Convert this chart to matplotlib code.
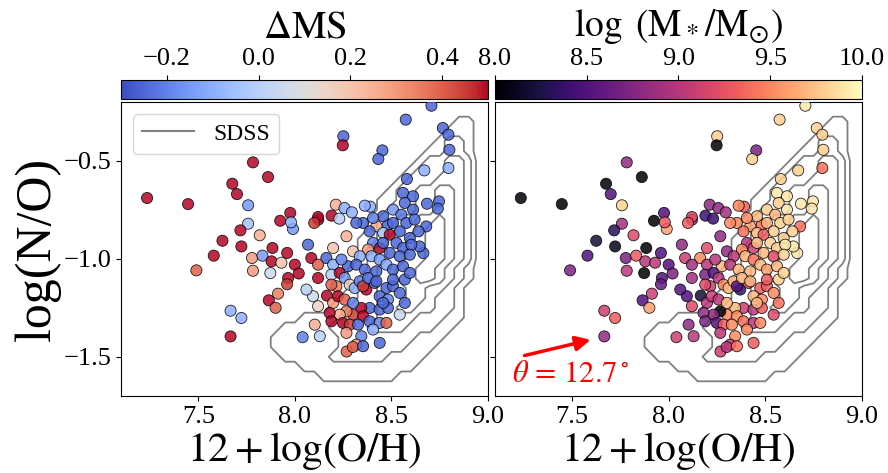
"""
N/O vs O/H for the sample, coloured by offset from the main sequence (left)
and by stellar mass (right), with SDSS density contours underneath.
"""
import numpy as np
import matplotlib
matplotlib.use("Agg")
import matplotlib.pyplot as plt
from matplotlib.lines import Line2D

plt.rcParams["font.family"] = ["Liberation Serif", "DejaVu Serif"]
plt.rcParams["mathtext.fontset"] = "stix"

OUTPUT = "out.png"

# galaxy sample: 12+log(O/H), log(N/O), log M*, Delta MS
OH = [
    8.707, 8.574, 8.766, 8.795, 8.800, 8.251, 8.248, 8.453, 8.432, 8.795,
    8.670, 8.580, 7.783, 7.861, 7.676, 7.700, 7.235, 7.447, 7.758, 7.976,
    7.924, 7.758, 7.718, 7.818, 7.625, 7.723, 7.580, 7.490, 7.778, 7.783,
    7.884, 7.832, 7.879, 7.873, 7.930, 7.960, 8.000, 8.020, 7.965, 7.960,
    7.913, 7.865, 7.900, 7.667, 7.723, 7.667, 8.040, 8.121, 8.212, 8.257,
    8.295, 8.190, 8.230, 8.120, 8.100, 8.390, 7.990, 7.980, 8.684, 8.746,
    8.740, 8.680, 8.665, 8.645, 8.268,
    8.560, 8.612, 8.569, 8.508, 8.612, 8.551, 8.362, 8.353, 8.422, 8.482,
    8.508, 8.577, 8.543, 8.457, 8.387, 8.318, 8.595, 8.491, 8.405, 8.439,
    8.379, 8.457, 8.526, 8.560, 8.603, 8.301, 8.336, 8.396, 8.439, 8.491,
    8.543, 8.595, 8.275, 8.318, 8.362, 8.422, 8.474, 8.508, 8.560, 8.267,
    8.068, 8.198, 8.163, 8.085, 8.120, 8.198, 8.241, 8.120, 8.189, 8.232,
    8.258, 8.215, 8.189, 8.284, 8.310, 8.336, 8.370, 8.353, 8.413, 8.474,
    8.508, 8.543, 8.439, 8.482, 8.387, 8.439, 8.482, 8.543, 8.344, 8.301,
    8.353, 8.387, 8.439, 8.474, 8.405, 8.094, 8.120, 8.166, 8.198, 8.223,
    8.258, 8.267, 8.232, 8.180, 8.189, 8.249, 8.284, 8.327, 8.267, 8.344,
    8.318, 8.300, 8.353, 8.103, 8.129, 8.439, 8.060,
    8.379, 8.422, 8.301, 8.569, 8.595, 8.508, 8.457, 8.569, 8.457, 8.405,
    8.620, 8.640,
]
NO = [
    -0.219, -0.290, -0.333, -0.367, -0.444, -0.375, -0.421, -0.447, -0.491, -0.537,
    -0.549, -0.593, -0.508, -0.583, -0.617, -0.670, -0.690, -0.721, -0.727, -0.766,
    -0.806, -0.821, -0.855, -0.880, -0.908, -0.937, -0.984, -1.059, -0.996, -1.061,
    -0.945, -0.984, -1.013, -1.073, -1.020, -0.970, -1.030, -1.075, -1.098, -1.130,
    -1.178, -1.212, -1.250, -1.265, -1.302, -1.396, -1.400, -0.800, -0.724, -0.741,
    -0.763, -0.780, -0.795, -0.787, -0.817, -0.734, -0.848, -0.814, -0.719, -0.707,
    -0.744, -0.835, -0.971, -0.937, -1.473,
    -0.664, -0.681, -0.715, -0.749, -0.749, -0.775, -0.729, -0.817, -0.834, -0.826,
    -0.817, -0.817, -0.860, -0.868, -0.860, -0.817, -0.894, -0.877, -0.919, -0.945,
    -0.953, -0.919, -0.919, -0.945, -0.928, -0.962, -0.987, -0.987, -1.004, -0.970,
    -0.987, -0.979, -1.038, -1.030, -1.055, -1.064, -1.030, -1.055, -1.038, -0.885,
    -0.928, -0.945, -0.996, -0.996, -1.030, -1.030, -1.004, -1.098, -1.081, -1.072,
    -1.098, -1.140, -1.132, -1.132, -1.149, -1.115, -1.157, -1.140, -1.123, -1.149,
    -1.140, -1.174, -1.191, -1.208, -1.251, -1.259, -1.251, -1.285, -1.251, -1.285,
    -1.293, -1.319, -1.327, -1.327, -1.361, -1.191, -1.242, -1.188, -1.225, -1.191,
    -1.208, -1.268, -1.285, -1.276, -1.319, -1.327, -1.336, -1.336, -1.378, -1.395,
    -1.438, -1.450, -1.446, -1.336, -1.395, -1.429, -1.157,
    -1.098, -1.115, -1.225, -1.106, -1.072, -1.106, -1.225, -1.225, -0.783, -0.792,
    -0.800, -0.860,
]
MASS = [
    9.9, 9.8, 9.8, 9.8, 9.8, 9.8, 8.0, 8.7, 9.8, 9.4,
    9.8, 9.8, 8.8, 8.0, 8.0, 8.5, 8.0, 8.0, 9.8, 8.5,
    8.0, 8.9, 8.3, 9.2, 8.2, 8.1, 8.5, 8.7, 8.7, 9.0,
    8.0, 9.3, 9.0, 8.0, 9.0, 8.5, 8.5, 8.7, 8.5, 8.6,
    9.1, 8.5, 9.6, 9.1, 9.3, 8.8, 9.1, 9.0, 8.8, 8.8,
    8.9, 8.4, 8.4, 9.2, 9.3, 9.3, 9.6, 9.3, 9.9, 9.9,
    9.9, 9.4, 9.9, 9.9, 9.1,
    9.9, 9.9, 9.8, 9.8, 9.9, 9.7, 9.5, 9.5, 9.6, 9.4,
    9.7, 9.8, 9.8, 9.7, 9.4, 9.5, 9.8, 9.3, 9.0, 9.1,
    9.5, 9.7, 9.8, 9.8, 9.9, 8.8, 9.0, 9.7, 9.4, 9.7,
    9.2, 9.8, 9.7, 9.0, 9.7, 9.7, 9.7, 9.6, 9.7, 8.8,
    8.8, 9.2, 9.5, 9.1, 8.9, 9.0, 9.0, 8.9, 8.7, 8.5,
    9.0, 9.1, 9.2, 9.5, 9.7, 9.7, 8.4, 8.5, 9.2, 9.3,
    9.3, 9.5, 9.7, 9.5, 9.1, 9.0, 9.3, 9.2, 9.7, 9.5,
    9.5, 9.4, 9.0, 9.5, 9.5, 8.5, 9.2, 8.2, 9.0, 9.1,
    9.0, 8.0, 8.8, 8.8, 8.7, 8.5, 9.3, 9.5, 9.0, 9.5,
    9.1, 9.0, 9.4, 8.8, 9.0, 9.3, 8.5,
    9.7, 9.7, 9.7, 9.8, 9.8, 9.3, 9.7, 9.4, 9.7, 9.5,
    9.8, 9.8,
]
DMS = [
    -0.25, -0.25, -0.25, -0.25, -0.25, -0.25, 0.50, -0.25, -0.25, -0.10,
    -0.10, -0.25, 0.50, 0.50, 0.50, 0.50, 0.50, 0.50, -0.15, 0.50,
    0.50, -0.05, 0.50, 0.25, 0.50, 0.50, 0.50, 0.40, 0.30, 0.30,
    0.50, -0.15, 0.50, 0.05, 0.20, 0.50, 0.50, 0.50, 0.50, 0.45,
    0.35, 0.50, 0.40, -0.10, -0.10, 0.50, -0.20, 0.50, 0.25, -0.10,
    -0.10, 0.50, 0.00, 0.50, 0.45, -0.10, -0.15, -0.10, -0.25, -0.25,
    -0.25, -0.25, -0.25, -0.25, 0.40,
    -0.25, -0.25, -0.25, -0.15, -0.25, -0.22, -0.10, -0.25, 0.25, -0.25,
    -0.25, -0.25, -0.25, -0.05, -0.25, -0.25, -0.25, 0.50, -0.20, 0.50,
    0.30, -0.25, -0.25, -0.25, -0.25, 0.20, -0.10, -0.10, -0.15, -0.25,
    -0.25, -0.25, -0.25, -0.25, -0.25, -0.25, -0.12, -0.25, -0.25, 0.25,
    -0.25, 0.20, -0.25, 0.50, 0.40, -0.10, -0.20, 0.50, 0.00, 0.50,
    -0.15, 0.35, 0.40, 0.15, -0.10, -0.20, 0.50, 0.45, -0.25, -0.25,
    -0.25, -0.25, -0.25, -0.20, -0.25, -0.25, -0.25, 0.05, 0.50, 0.45,
    0.50, -0.25, -0.20, 0.40, -0.10, 0.05, 0.15, 0.50, 0.30, 0.50,
    0.40, 0.35, 0.25, 0.50, 0.50, 0.50, 0.45, -0.25, 0.30, -0.20,
    0.30, 0.40, -0.25, 0.25, 0.00, -0.25, 0.00,
    -0.25, -0.25, -0.20, -0.25, -0.25, -0.25, -0.25, -0.25, -0.25, -0.20,
    -0.25, -0.25,
]

# SDSS number density (binned, arbitrary levels) on a regular grid
SDSS_X = np.arange(7.80, 9.001, 0.05)
SDSS_Y = np.arange(-0.20, -1.701, -0.05)
SDSS_ROWS = [
    "0000000000000000000000000",
    "0000000000000000000000000",
    "0000000000000000000001100",
    "0000000000000000000011100",
    "0000000000000000000122100",
    "0000000000000000001122100",
    "0000000000000000012233200",
    "0000000000000000122233200",
    "0000000000000001222333200",
    "0000000000000012233443200",
    "0000000000000112233443200",
    "0000000000000122233443200",
    "0000000000001223344543200",
    "0000000000001223345543200",
    "0000000000011233445543200",
    "0000000000012233445543200",
    "0000000000012233445543200",
    "0000000000112334455432100",
    "0000000000122334455432100",
    "0000000000122333443321000",
    "0000000001122333443221000",
    "0000000011222334433221000",
    "0000011112222333322211000",
    "0001111122223333222110000",
    "0011111112222222211100000",
    "0011111112222222111000000",
    "0001111122222211110000000",
    "0000011111111111100000000",
    "0000000111111110000000000",
    "0000000000000000000000000",
    "0000000000000000000000000",
]
SDSS_LEVELS = [0.5, 1.5, 2.5, 3.5, 4.5]

XLIM = (7.1, 9.0)
YLIM = (-1.7, -0.2)


if __name__ == "__main__":
    sdss = np.array([[int(c) for c in row] for row in SDSS_ROWS], dtype=float)

    fig = plt.figure(figsize=(8.88, 4.73), dpi=100)
    ax_l = fig.add_axes([0.1363, 0.1628, 0.4133, 0.6216])
    ax_r = fig.add_axes([0.5571, 0.1628, 0.4136, 0.6216])
    cax_l = fig.add_axes([0.1363, 0.7907, 0.4133, 0.0402])
    cax_r = fig.add_axes([0.5571, 0.7907, 0.4136, 0.0402])

    panels = [
        (ax_l, cax_l, DMS, "coolwarm", -0.3, 0.5, r"$\Delta\mathrm{MS}$",
         [-0.2, 0.0, 0.2, 0.4], 28, 8),
        (ax_r, cax_r, MASS, "magma", 8.0, 10.0,
         r"$\log\ (\mathrm{M}_*/\mathrm{M}_{\odot})$",
         [8.0, 8.5, 9.0, 9.5, 10.0], 27, 9),
    ]
    for ax, cax, values, cmap, vmin, vmax, label, ticks, lsize, lpad in panels:
        ax.contour(SDSS_X, SDSS_Y, sdss, levels=SDSS_LEVELS,
                   colors="gray", linewidths=1.3)
        sc = ax.scatter(OH, NO, c=values, cmap=cmap, vmin=vmin, vmax=vmax,
                        s=64, edgecolors="k", linewidths=0.6, alpha=0.85,
                        zorder=3)
        ax.set_xlim(*XLIM)
        ax.set_ylim(*YLIM)
        ax.set_xticks([7.5, 8.0, 8.5, 9.0])
        ax.set_yticks([-1.5, -1.0, -0.5])
        ax.tick_params(labelsize=19)
        ax.set_xlabel(r"$12 + \log(\mathrm{O/H})$", fontsize=30, labelpad=2)

        cbar = fig.colorbar(sc, cax=cax, orientation="horizontal")
        cbar.solids.set_alpha(1)
        cbar.set_ticks(ticks)
        cax.xaxis.set_ticks_position("top")
        cax.xaxis.set_label_position("top")
        cax.tick_params(labelsize=19)
        cbar.set_label(label, fontsize=lsize, labelpad=lpad)

    ax_l.set_ylabel("log(N/O)", fontsize=36, labelpad=2)
    ax_r.set_yticklabels([])

    ax_l.legend(handles=[Line2D([], [], color="gray", lw=1.5, label="SDSS")],
                loc="upper left", fontsize=17, handlelength=2.2)

    ax_r.annotate("", xy=(7.61, -1.41), xytext=(7.24, -1.497),
                  arrowprops=dict(arrowstyle="-|>", color="red", lw=2.5,
                                  mutation_scale=22), zorder=4)
    ax_r.text(7.19, -1.59, r"$\theta\,=\,12.7^\circ$", color="red",
              fontsize=22, ha="left", va="center")

    plt.savefig(OUTPUT, dpi=100)
